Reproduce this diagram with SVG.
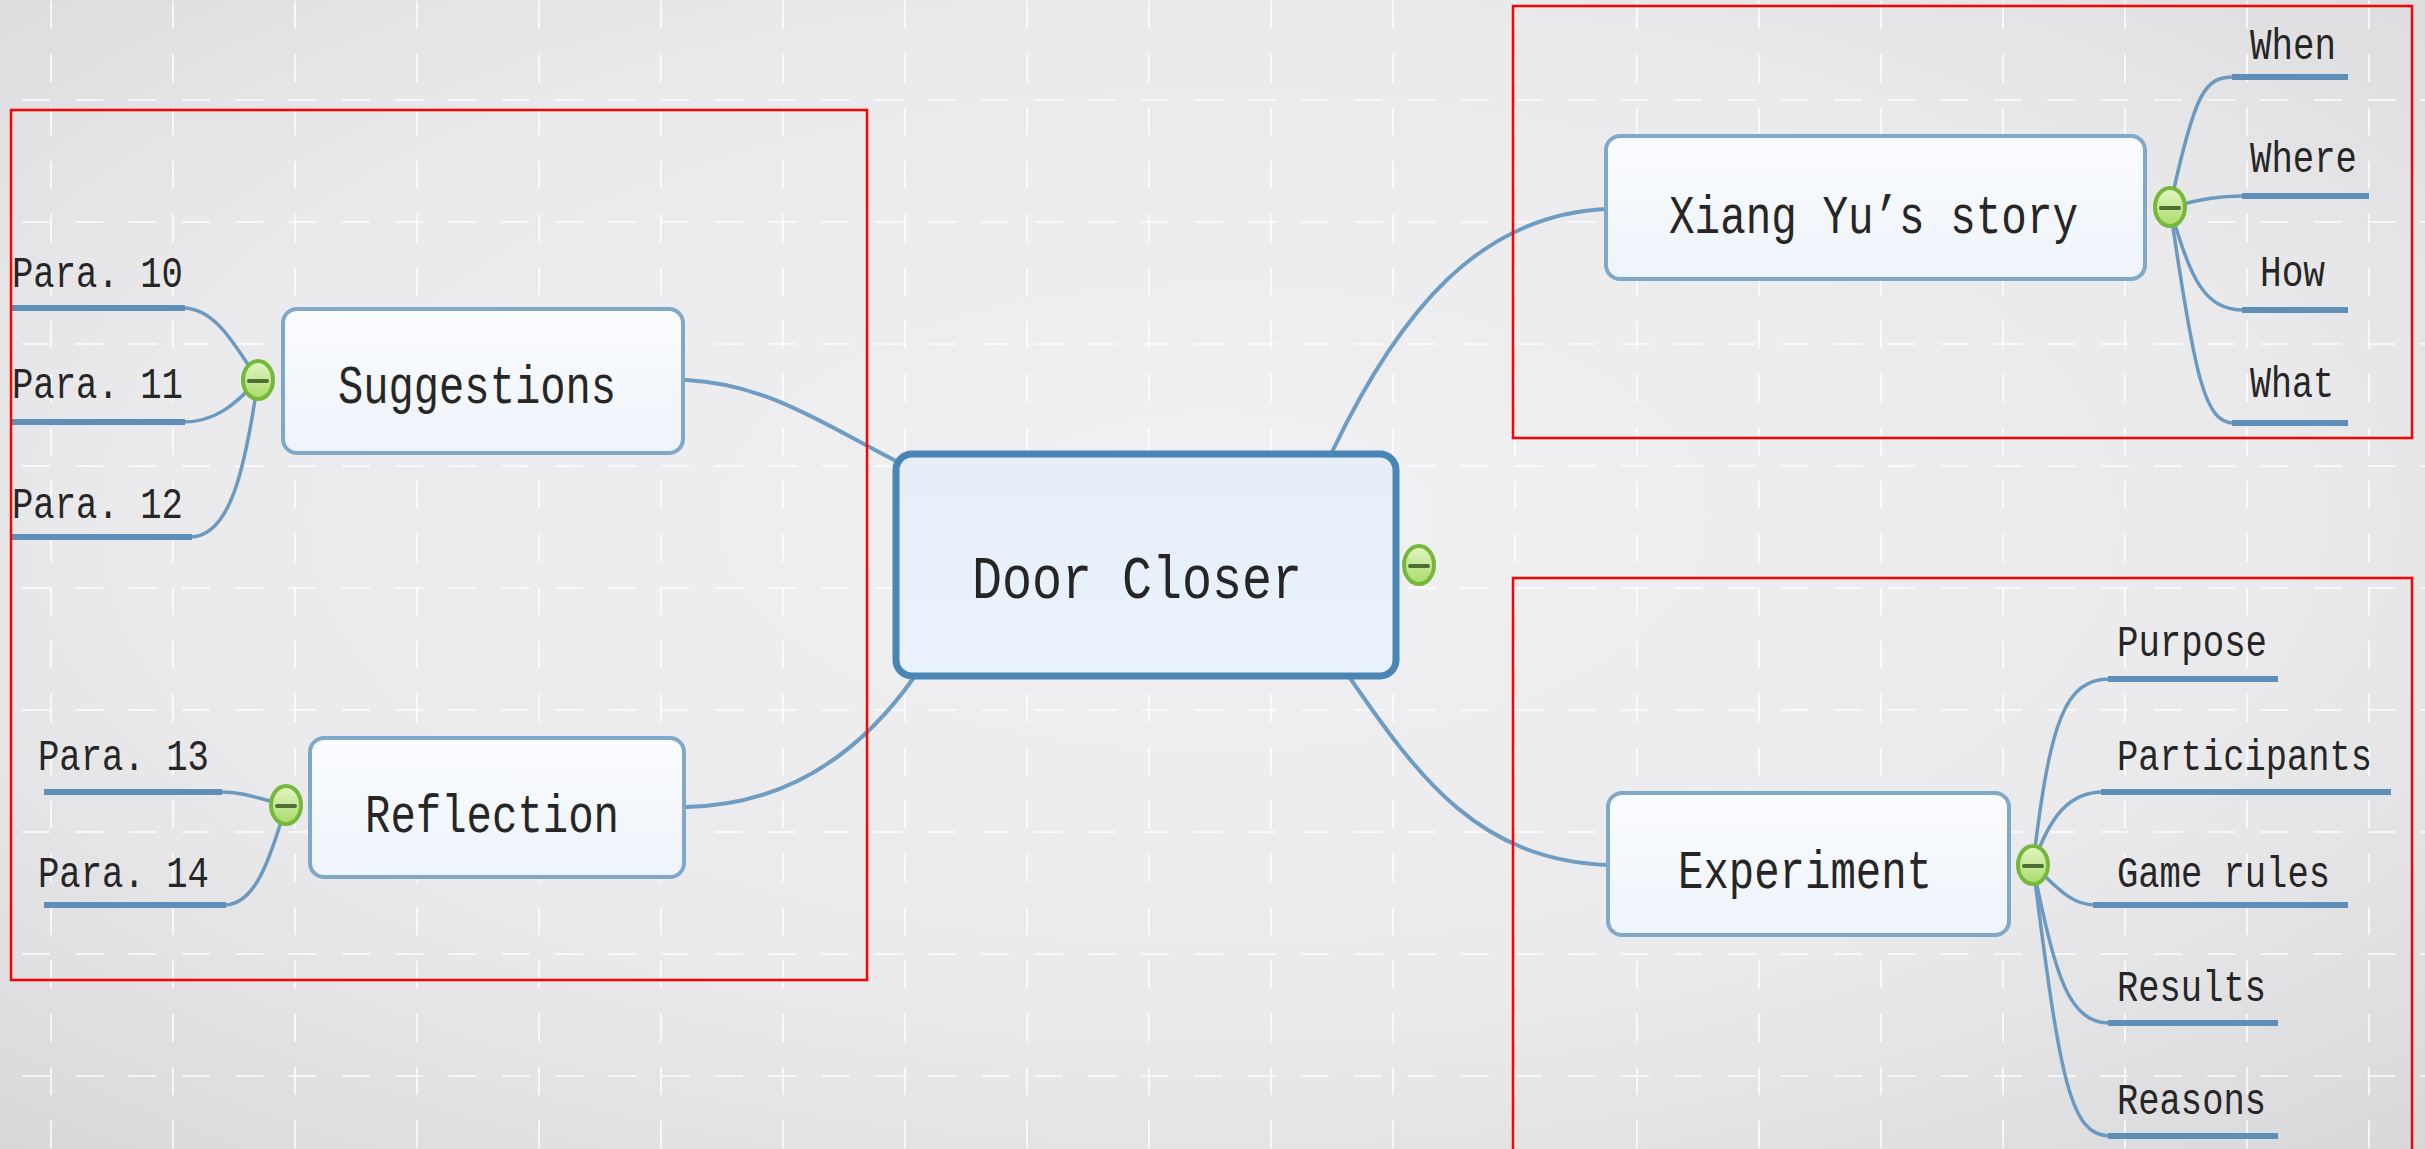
<svg xmlns="http://www.w3.org/2000/svg" width="2425" height="1149" viewBox="0 0 2425 1149">
<style>
.grid-h{stroke:#ffffff;stroke-opacity:0.9;stroke-width:1.6;stroke-dasharray:28 25.3;fill:none}
.grid-v{stroke:#ffffff;stroke-opacity:0.9;stroke-width:1.6;stroke-dasharray:28 25.3;fill:none}
.conn{fill:none;stroke:#6e9cc2;stroke-width:4;stroke-linecap:round}
.branch{fill:none;stroke:#6b99bf;stroke-width:3.5;stroke-linecap:round}
.under{fill:none;stroke:#5f8fb7;stroke-width:6;stroke-linecap:butt}
.sub{fill:url(#subFill);stroke:#80a8c9;stroke-width:4}
.central{fill:url(#cenFill);stroke:#4a86b5;stroke-width:7}
.t{font-family:"Liberation Mono","DejaVu Sans Mono",monospace;fill:#262626}
.leaf{font-size:45px}
.subt{font-size:54px}
.cent{font-size:62px}
.ann{fill:none;stroke:#ff0000;stroke-width:2.5}
.cl{fill:url(#greenFill);stroke:#76b83c;stroke-width:4}
.minus{stroke:#4f6e36;stroke-width:4;stroke-linecap:round}
</style>
<defs>
<radialGradient id="bg" cx="0.5" cy="0.45" r="0.75">
<stop offset="0" stop-color="#f1f1f3"/>
<stop offset="0.6" stop-color="#eaeaec"/>
<stop offset="1" stop-color="#d8d8db"/>
</radialGradient>
<linearGradient id="subFill" x1="0" y1="0" x2="0" y2="1">
<stop offset="0" stop-color="#fbfcfe"/>
<stop offset="1" stop-color="#eef4fb"/>
</linearGradient>
<linearGradient id="cenFill" x1="0" y1="0" x2="0" y2="1">
<stop offset="0" stop-color="#e6eff9"/>
<stop offset="1" stop-color="#eaf2fc"/>
</linearGradient>
<linearGradient id="greenFill" x1="0" y1="0" x2="0" y2="1">
<stop offset="0" stop-color="#e3f6c4"/>
<stop offset="1" stop-color="#a9dc6a"/>
</linearGradient>
</defs>

<rect x="0" y="0" width="2425" height="1149" fill="url(#bg)"/>

<g id="grid">
<path class="grid-h" d="M-31.3 100H2425M-31.3 222H2425M-31.3 344H2425M-31.3 466H2425M-31.3 588H2425M-31.3 710H2425M-31.3 832H2425M-31.3 954H2425M-31.3 1076H2425"/>
<path class="grid-v" d="M51 1V1149M173 1V1149M295 1V1149M417 1V1149M539 1V1149M661 1V1149M783 1V1149M905 1V1149M1027 1V1149M1149 1V1149M1271 1V1149M1393 1V1149M1515 1V1149M1637 1V1149M1759 1V1149M1881 1V1149M2003 1V1149M2125 1V1149M2247 1V1149M2369 1V1149"/>
</g>

<g id="connectors">
<path class="conn" d="M686 380 C770 384 830 428 900 463"/>
<path class="conn" d="M915 676 C870 740 800 805 686 807"/>
<path class="conn" d="M1332 452 C1400 310 1480 215 1606 209"/>
<path class="conn" d="M1350 678 C1420 780 1480 860 1608 865"/>
<path class="branch" d="M258 380 C235 345 215 308 183 308"/>
<path class="branch" d="M258 380 C235 405 215 422 183 422"/>
<path class="branch" d="M258 380 C245 470 230 537 190 537"/>
<path class="under" d="M12 308H185M12 422H185M12 537H192"/>
<path class="branch" d="M286 805 C262 800 246 792 220 792"/>
<path class="branch" d="M286 805 C270 860 255 905 224 905"/>
<path class="under" d="M44 792H222M44 905H226"/>
<path class="branch" d="M2170 207 C2195 90 2205 77 2234 77"/>
<path class="branch" d="M2170 207 C2200 200 2215 196 2244 196"/>
<path class="branch" d="M2170 207 C2190 280 2205 310 2244 310"/>
<path class="branch" d="M2170 207 C2195 380 2205 423 2234 423"/>
<path class="under" d="M2232 77H2348M2242 196H2369M2242 310H2348M2232 423H2348"/>
<path class="branch" d="M2033 865 C2050 720 2065 679 2110 679"/>
<path class="branch" d="M2033 865 C2050 815 2070 792 2103 792"/>
<path class="branch" d="M2033 865 C2055 885 2070 905 2095 905"/>
<path class="branch" d="M2033 865 C2055 980 2070 1023 2110 1023"/>
<path class="branch" d="M2033 865 C2060 1080 2070 1136 2110 1136"/>
<path class="under" d="M2108 679H2278M2101 792H2391M2093 905H2348M2108 1023H2278M2108 1136H2278"/>
</g>

<g id="node-door-closer">
<rect class="central" x="896" y="454" width="500" height="222" rx="16"/>
<text class="t cent" x="972" y="598" textLength="330" lengthAdjust="spacingAndGlyphs">Door Closer</text>
<ellipse class="cl" cx="1419" cy="565" rx="15" ry="19"/>
<line class="minus" x1="1410" y1="566" x2="1428" y2="566"/>
</g>

<g id="node-suggestions">
<rect class="sub" x="283" y="309" width="400" height="144" rx="14"/>
<text class="t subt" x="338" y="403" textLength="278" lengthAdjust="spacingAndGlyphs">Suggestions</text>
<ellipse class="cl" cx="258" cy="380" rx="15" ry="19"/>
<line class="minus" x1="249" y1="381" x2="267" y2="381"/>
</g>
<g id="node-para10"><text class="t leaf" x="12" y="287" textLength="171" lengthAdjust="spacingAndGlyphs">Para. 10</text></g>
<g id="node-para11"><text class="t leaf" x="12" y="398" textLength="171" lengthAdjust="spacingAndGlyphs">Para. 11</text></g>
<g id="node-para12"><text class="t leaf" x="12" y="518" textLength="171" lengthAdjust="spacingAndGlyphs">Para. 12</text></g>

<g id="node-reflection">
<rect class="sub" x="310" y="738" width="374" height="139" rx="14"/>
<text class="t subt" x="365" y="832" textLength="254" lengthAdjust="spacingAndGlyphs">Reflection</text>
<ellipse class="cl" cx="286" cy="805" rx="15" ry="19"/>
<line class="minus" x1="277" y1="806" x2="295" y2="806"/>
</g>
<g id="node-para13"><text class="t leaf" x="38" y="770" textLength="171" lengthAdjust="spacingAndGlyphs">Para. 13</text></g>
<g id="node-para14"><text class="t leaf" x="38" y="887" textLength="171" lengthAdjust="spacingAndGlyphs">Para. 14</text></g>

<g id="node-xiangyu">
<rect class="sub" x="1606" y="136" width="539" height="143" rx="14"/>
<text class="t subt" x="1669" y="233" textLength="409" lengthAdjust="spacingAndGlyphs">Xiang Yu’s story</text>
<ellipse class="cl" cx="2170" cy="207" rx="15" ry="19"/>
<line class="minus" x1="2161" y1="208" x2="2179" y2="208"/>
</g>
<g id="node-when"><text class="t leaf" x="2250" y="59" textLength="86" lengthAdjust="spacingAndGlyphs">When</text></g>
<g id="node-where"><text class="t leaf" x="2250" y="172" textLength="107" lengthAdjust="spacingAndGlyphs">Where</text></g>
<g id="node-how"><text class="t leaf" x="2260" y="286" textLength="65" lengthAdjust="spacingAndGlyphs">How</text></g>
<g id="node-what"><text class="t leaf" x="2250" y="397" textLength="84" lengthAdjust="spacingAndGlyphs">What</text></g>

<g id="node-experiment">
<rect class="sub" x="1608" y="793" width="401" height="142" rx="14"/>
<text class="t subt" x="1678" y="888" textLength="254" lengthAdjust="spacingAndGlyphs">Experiment</text>
<ellipse class="cl" cx="2033" cy="865" rx="15" ry="19"/>
<line class="minus" x1="2024" y1="866" x2="2042" y2="866"/>
</g>
<g id="node-purpose"><text class="t leaf" x="2117" y="656" textLength="150" lengthAdjust="spacingAndGlyphs">Purpose</text></g>
<g id="node-participants"><text class="t leaf" x="2117" y="770" textLength="255" lengthAdjust="spacingAndGlyphs">Participants</text></g>
<g id="node-gamerules"><text class="t leaf" x="2117" y="887" textLength="213" lengthAdjust="spacingAndGlyphs">Game rules</text></g>
<g id="node-results"><text class="t leaf" x="2117" y="1001" textLength="149" lengthAdjust="spacingAndGlyphs">Results</text></g>
<g id="node-reasons"><text class="t leaf" x="2117" y="1114" textLength="149" lengthAdjust="spacingAndGlyphs">Reasons</text></g>

<g id="annotations">
<rect class="ann" x="11" y="110" width="856" height="870"/>
<rect class="ann" x="1513" y="6" width="899" height="432"/>
<rect class="ann" x="1513" y="578" width="899" height="590"/>
</g>
</svg>
